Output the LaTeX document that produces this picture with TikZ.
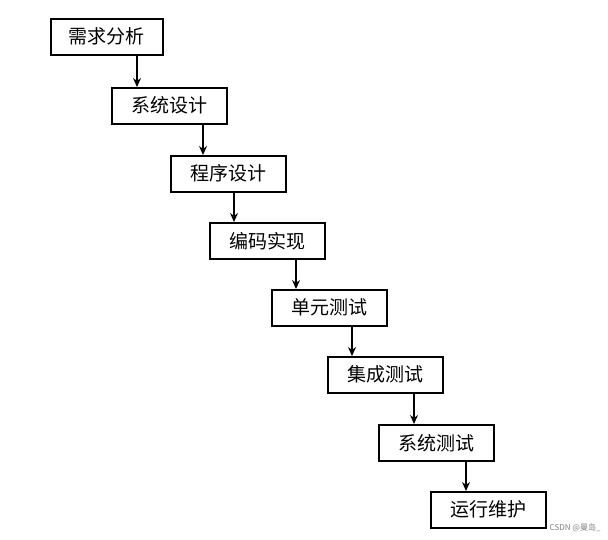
\documentclass[tikz,border=0pt]{standalone}
\usepackage{fontspec}
\newfontfamily\cjk{Noto Sans CJK SC}
\usetikzlibrary{arrows.meta}
\begin{document}
\begin{tikzpicture}[x=1pt,y=-1pt,
  stage/.style={draw,line width=1.5pt,minimum width=115pt,minimum height=36pt,inner sep=0pt,font=\cjk\fontsize{19}{19}\selectfont,anchor=north west},
  arr/.style={line width=1.3pt,-{Stealth[length=9pt,width=8pt]}}]
\useasboundingbox (0,0) rectangle (608,539);
\node[stage,minimum width=112pt] (n1) at (50,18) {需求分析};
\node[stage] (n2) at (111,87) {系统设计};
\node[stage] (n3) at (170,155) {程序设计};
\node[stage] (n4) at (209,222) {编码实现};
\node[stage] (n5) at (271,289) {单元测试};
\node[stage] (n6) at (327,356) {集成测试};
\node[stage] (n7) at (378,424) {系统测试};
\node[stage] (n8) at (430,491) {运行维护};
\foreach \a/\b/\x in {n1/n2/137,n2/n3/203,n3/n4/234,n4/n5/296,n5/n6/352,n6/n7/414,n7/n8/466}{
  \coordinate (t\a) at (\x,0);
  \draw[arr] (\a.south -| t\a) -- (\b.north -| t\a);
}
\node[anchor=east,text=gray,font=\cjk\fontsize{8}{8}\selectfont] (wm) at (604,528) {CSDN @曼岛\_};
\end{tikzpicture}
\end{document}
